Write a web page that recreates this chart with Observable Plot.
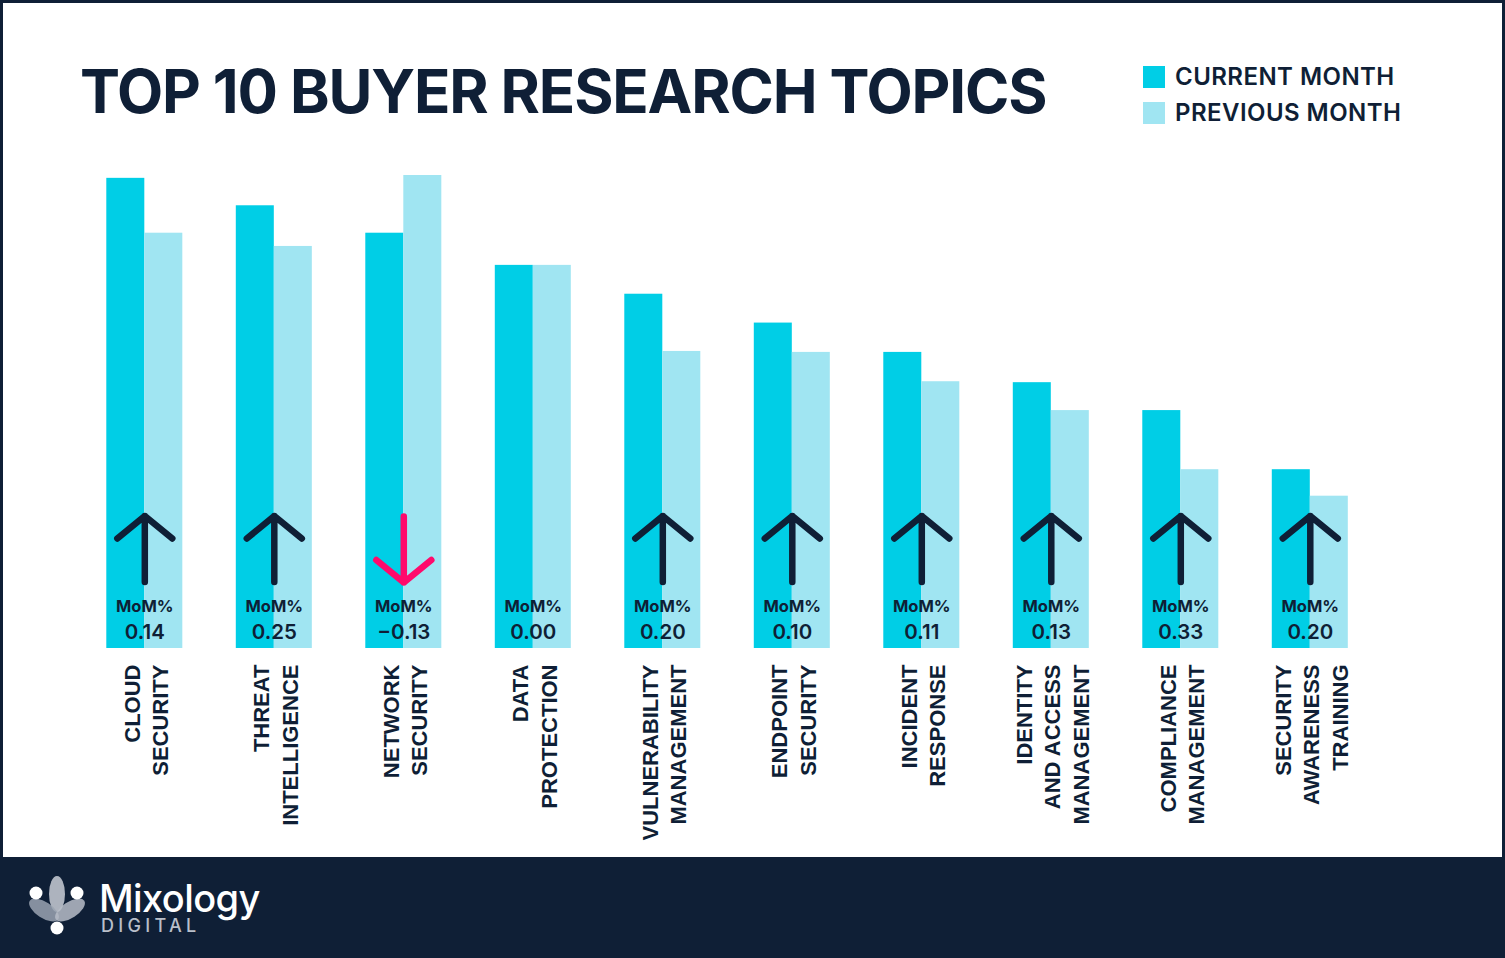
<!DOCTYPE html>
<html>
<head>
<meta charset="utf-8">
<script src="https://cdn.jsdelivr.net/npm/d3@7"></script>
<script src="https://cdn.jsdelivr.net/npm/@observablehq/plot@0.6"></script>
<style>
  html, body { margin: 0; padding: 0; }
  body { width: 1505px; height: 958px; overflow: hidden; position: relative; background: #0f1f36; font-family: Inter, "Noto Sans", sans-serif; }
  #panel { position: absolute; left: 3px; top: 3px; width: 1499px; height: 854px; background: #ffffff; }
  #chart { position: absolute; left: 0; top: 0; }
  #title { position: absolute; left: 80px; top: 61px; margin: 0; font: 700 60px/60px Inter, sans-serif; color: #0f1f36; white-space: nowrap; letter-spacing: -1.15px; }
  .leg { position: absolute; left: 1143px; display: flex; align-items: center; font: 600 24px/22px Inter, sans-serif; color: #0f1f36; white-space: nowrap; letter-spacing: 0.45px; }
  .leg span.sw { display: inline-block; width: 22px; height: 22px; margin-right: 10px; }
  #footer { position: absolute; left: 0; top: 858px; width: 1505px; height: 100px; }
</style>
</head>
<body>
<div id="panel"></div>
<div id="chart"></div>
<h1 id="title">TOP 10 BUYER RESEARCH TOPICS</h1>
<div id="legend"></div>
<svg id="footer" width="1505" height="100">
  <g>
    <ellipse cx="57" cy="36" rx="8" ry="18" fill="#c9ced6" opacity="0.85"/>
    <ellipse cx="44" cy="52" rx="17" ry="8" transform="rotate(33 44 52)" fill="#9aa3b1" opacity="0.85"/>
    <ellipse cx="70" cy="52" rx="17" ry="8" transform="rotate(-33 70 52)" fill="#b7bdc8" opacity="0.85"/>
    <circle cx="36" cy="35" r="6.5" fill="#ffffff"/>
    <circle cx="77" cy="35" r="6.5" fill="#ffffff"/>
    <circle cx="57" cy="70" r="6.5" fill="#ffffff"/>
  </g>
  <text x="99" y="53.5" fill="#ffffff" font-family="Inter, sans-serif" font-weight="500" font-size="38" letter-spacing="-0.6">Mixology</text>
  <text x="101" y="74" fill="#b9bfca" font-family="Inter, sans-serif" font-weight="500" font-size="18" letter-spacing="4.3">DIGITAL</text>
</svg>
<script>
// ---- data ----
const categories = [
  "Cloud Security", "Threat Intelligence", "Network Security", "Data Protection",
  "Vulnerability Management", "Endpoint Security", "Incident Response",
  "Identity and Access Management", "Compliance Management", "Security Awareness Training"
];
const tickLabels = [
  "CLOUD\nSECURITY", "THREAT\nINTELLIGENCE", "NETWORK\nSECURITY", "DATA\nPROTECTION",
  "VULNERABILITY\nMANAGEMENT", "ENDPOINT\nSECURITY", "INCIDENT\nRESPONSE",
  "IDENTITY\nAND ACCESS\nMANAGEMENT", "COMPLIANCE\nMANAGEMENT", "SECURITY\nAWARENESS\nTRAINING"
];
// relative research volume index (max = 100)
const currentMonth  = [99.4, 93.6, 87.8, 81.0, 74.9, 68.8, 62.6, 56.2, 50.3, 37.8];
const previousMonth = [87.8, 85.0, 100.0, 81.0, 62.8, 62.6, 56.4, 50.3, 37.8, 32.2];
const momChange     = [0.14, 0.25, -0.13, 0.00, 0.20, 0.10, 0.11, 0.13, 0.33, 0.20];
const seriesNames   = ["Current month", "Previous month"];
const seriesLabels  = ["CURRENT MONTH", "PREVIOUS MONTH"];
const seriesColors  = ["#00cee6", "#a0e5f2"];

const navy = "#0f1f36";
const pink = "#ff0a6c";

const bars = categories.flatMap((c, i) => [
  {topic: c, series: seriesNames[0], value: currentMonth[i]},
  {topic: c, series: seriesNames[1], value: previousMonth[i]}
]);
const topics = categories.map((c, i) => ({topic: c, label: tickLabels[i], mom: momChange[i]}));

const arrowSymbol = {
  draw(ctx) {
    ctx.moveTo(0, 33); ctx.lineTo(0, -33);
    ctx.moveTo(-27.5, -10.5); ctx.lineTo(0, -33); ctx.lineTo(27.5, -10.5);
  }
};
const fmt = d3.format(".2f");

const chart = Plot.plot({
  width: 1505,
  height: 858,
  marginLeft: 106.3,
  marginRight: 157.2,
  marginTop: 175,
  marginBottom: 210,
  style: {background: "transparent", overflow: "visible"},
  fx: {domain: categories, paddingInner: 0.413, paddingOuter: 0, round: false, axis: null, label: null},
  x: {domain: seriesNames, padding: 0, round: false, axis: null},
  y: {domain: [0, 100], axis: null},
  color: {domain: seriesNames, range: seriesColors},
  marks: [
    Plot.barY(bars, {fx: "topic", x: "series", y: "value", fill: "series", inset: 0}),
    Plot.dot(topics.filter(d => d.mom > 0), {
      fx: "topic", frameAnchor: "bottom", dy: -99.5, symbol: arrowSymbol,
      fill: "none", stroke: navy, strokeWidth: 6.5, strokeLinecap: "round", strokeLinejoin: "round"
    }),
    Plot.dot(topics.filter(d => d.mom < 0), {
      fx: "topic", frameAnchor: "bottom", dy: -99, symbol: arrowSymbol, rotate: 180,
      fill: "none", stroke: pink, strokeWidth: 6.5, strokeLinecap: "round", strokeLinejoin: "round"
    }),
    Plot.text(topics, {
      fx: "topic", frameAnchor: "bottom", lineAnchor: "middle", dy: -41.5, text: () => "MoM%",
      fontFamily: "Inter, sans-serif", fontWeight: 700, fontSize: 16.5, fill: navy
    }),
    Plot.text(topics, {
      fx: "topic", frameAnchor: "bottom", lineAnchor: "middle", dy: -16.5, text: d => fmt(d.mom),
      fontFamily: "Inter, sans-serif", fontWeight: 600, fontSize: 20.5, fill: navy
    }),
    Plot.text(topics, {
      fx: "topic", frameAnchor: "bottom", dy: 16, text: "label", rotate: -90,
      textAnchor: "end", lineAnchor: "middle", lineHeight: 1.3,
      fontFamily: "'Liberation Sans', Arial, sans-serif", fontWeight: 700, fontSize: 22, fill: navy
    })
  ]
});
document.getElementById("chart").appendChild(chart);

// legend
const legend = document.getElementById("legend");
seriesLabels.forEach((lab, i) => {
  const row = document.createElement("div");
  row.className = "leg";
  row.style.top = (66 + i * 35.7) + "px";
  row.innerHTML = `<span class="sw" style="background:${seriesColors[i]}"></span>${lab}`;
  legend.appendChild(row);
});
</script>
</body>
</html>
